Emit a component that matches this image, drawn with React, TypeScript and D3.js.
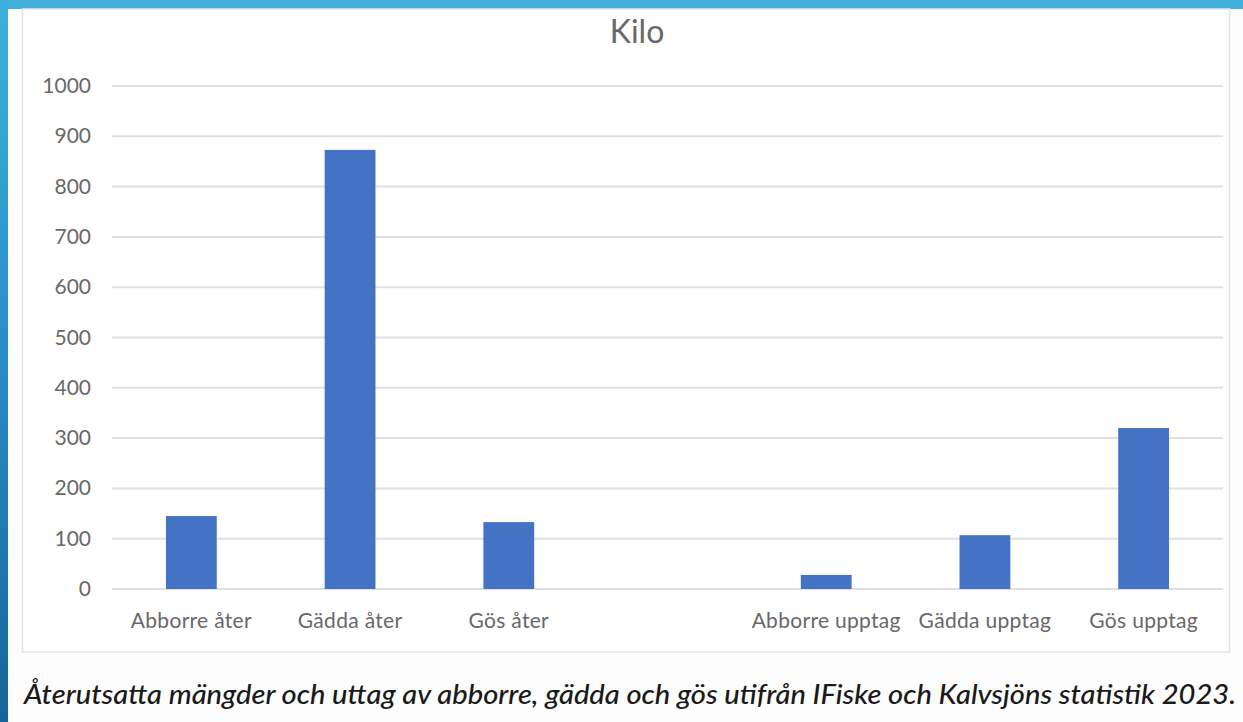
import React from "react";
import * as d3 from "d3";

const categories = ["Abborre åter", "Gädda åter", "Gös åter", "", "Abborre upptag", "Gädda upptag", "Gös upptag"];
const values = [145, 873, 133, null, 28, 107, 320];
const yTicks = [0, 100, 200, 300, 400, 500, 600, 700, 800, 900, 1000];
const title = "Kilo";
const caption = "Återutsatta mängder och uttag av abborre, gädda och gös utifrån IFiske och Kalvsjöns statistik 2023.";

export default function App() {
  const W = 1243, H = 722;
  const plot = { left: 112, right: 1223, top: 86, bottom: 589 };
  const x = d3.scaleBand<string>().domain(categories.map((c, i) => String(i))).range([plot.left, plot.right]).paddingInner(0.68).paddingOuter(0.34);
  const y = d3.scaleLinear().domain([0, 1000]).range([plot.bottom, plot.top]);
  const font = "Lato, 'Open Sans', sans-serif";
  const grey = "#686868";
  return (
    <svg width={W} height={H} style={{ position: "absolute", left: 0, top: 0 }} xmlns="http://www.w3.org/2000/svg">
      <defs>
        <linearGradient id="leftBar" x1="0" y1="0" x2="0" y2="1">
          <stop offset="0" stopColor="#3fb0de" />
          <stop offset="0.5" stopColor="#2a8cc4" />
          <stop offset="1" stopColor="#17649a" />
        </linearGradient>
      </defs>
      <rect x={0} y={0} width={W} height={H} fill="#fdfdfd" />
      <rect x={0} y={0} width={W} height={9} fill="#42afdc" />
      <rect x={0} y={0} width={8} height={H} fill="url(#leftBar)" />
      <rect x={22.5} y={9} width={1207} height={643} fill="#ffffff" stroke="#e4e4e4" strokeWidth={1.5} />
      <text x={637} y={43} textAnchor="middle" fontFamily={font} fontSize={32} fill={grey}>{title}</text>
      {yTicks.map(t => (
        <g key={t}>
          <line x1={plot.left} x2={plot.right} y1={y(t)} y2={y(t)} stroke="#e0e0e0" strokeWidth={2} />
          <text x={91} y={y(t) + 7} textAnchor="end" fontFamily={font} fontSize={21} fill={grey}>{t}</text>
        </g>
      ))}
      {categories.map((c, i) => {
        const v = values[i];
        const bx = x(String(i))!;
        return (
          <g key={i}>
            {v != null && (
              <rect x={bx} y={y(v)} width={x.bandwidth()} height={y(0) - y(v)} fill="#4472c4" />
            )}
            {c && (
              <text x={bx + x.bandwidth() / 2} y={628} textAnchor="middle" fontFamily={font} fontSize={21} letterSpacing={0.3} fill={grey}>{c}</text>
            )}
          </g>
        );
      })}
      <text x={24} y={704} fontFamily={font} fontStyle="italic" fontWeight={500} fontSize={27} fill="#1a1a1a" textLength={1212} lengthAdjust="spacingAndGlyphs">{caption}</text>
    </svg>
  );
}
